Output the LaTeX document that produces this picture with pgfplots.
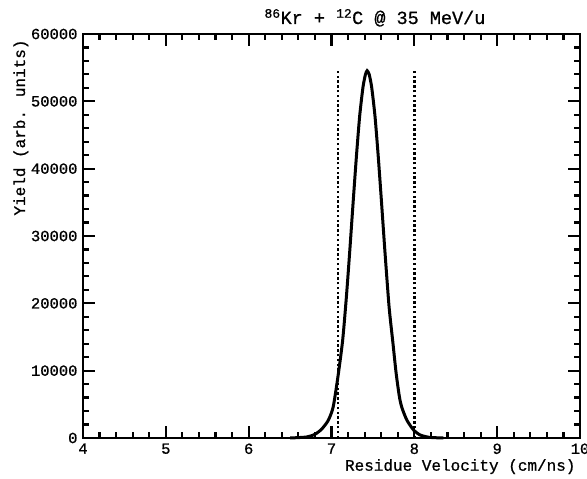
\documentclass[border=0pt]{standalone}
\usepackage{pgfplots}
\pgfplotsset{compat=1.18}
\usepackage{fontspec}
\setmainfont{Liberation Mono}[FakeBold=0.8]
\begin{document}
\fontsize{16bp}{19bp}\selectfont
\begin{tikzpicture}
\begin{axis}[
  scale only axis, width=497bp, height=404bp,
  xmin=4, xmax=10, ymin=0, ymax=60000,
  axis line style={line width=2.2bp},
  xtick={4,5,6,7,8,9,10}, minor x tick num=4,
  ytick={0,10000,20000,30000,40000,50000,60000}, minor y tick num=4,
  tick align=inside, xtick pos=both, ytick pos=both,
  major tick length=12bp, minor tick length=6bp,
  every tick/.style={black, line width=2.2bp},
  scaled y ticks=false,
  /pgf/number format/assume math mode=true,
  yticklabel style={/pgf/number format/fixed, /pgf/number format/1000 sep={}},
  ticklabel style={font=\fontsize{15.5bp}{18bp}\selectfont},
  clip=false,
]
\addplot[black, line width=3bp, smooth, tension=0.4] coordinates {
(6.50,0) (6.70,150) (6.80,550) (6.88,1300) (6.96,2600) (7.02,4600)
(7.08,9300) (7.135,14550) (7.18,21000) (7.22,27700) (7.26,34800)
(7.30,41700) (7.34,47800) (7.38,52100) (7.41,54000) (7.43,54550)
(7.455,54000) (7.485,52100) (7.525,47800) (7.565,41700) (7.605,34800)
(7.645,27700) (7.695,19500) (7.74,14300) (7.78,9650) (7.82,6100)
(7.85,4500) (7.91,2650) (7.99,1200) (8.07,450) (8.18,100) (8.35,0)
};
\addplot[black, line width=2.4bp, dash pattern=on 2.4bp off 2.4bp] coordinates {(7.075,0) (7.075,54500)};
\addplot[black, line width=2.4bp, dash pattern=on 2.4bp off 2.4bp] coordinates {(8.0,0) (8.0,54500)};
\node[anchor=base, font=\fontsize{18.5bp}{22bp}\selectfont] at ([yshift=10bp]axis cs:7.525,60000) {\textsuperscript{86}Kr + \textsuperscript{12}C @ 35 MeV/u};
\node[anchor=base east] at ([yshift=-32.7bp, xshift=1bp]axis cs:10,0) {Residue Velocity (cm/ns)};
\node[rotate=90, anchor=base east] at ([xshift=-58bp]axis cs:4,60000) {Yield (arb. units)};
\end{axis}
\pgfresetboundingbox
\path ([shift={(-83bp,-41bp)}]current axis.south west) rectangle ([shift={(7bp,34bp)}]current axis.north east);
\end{tikzpicture}
\end{document}
